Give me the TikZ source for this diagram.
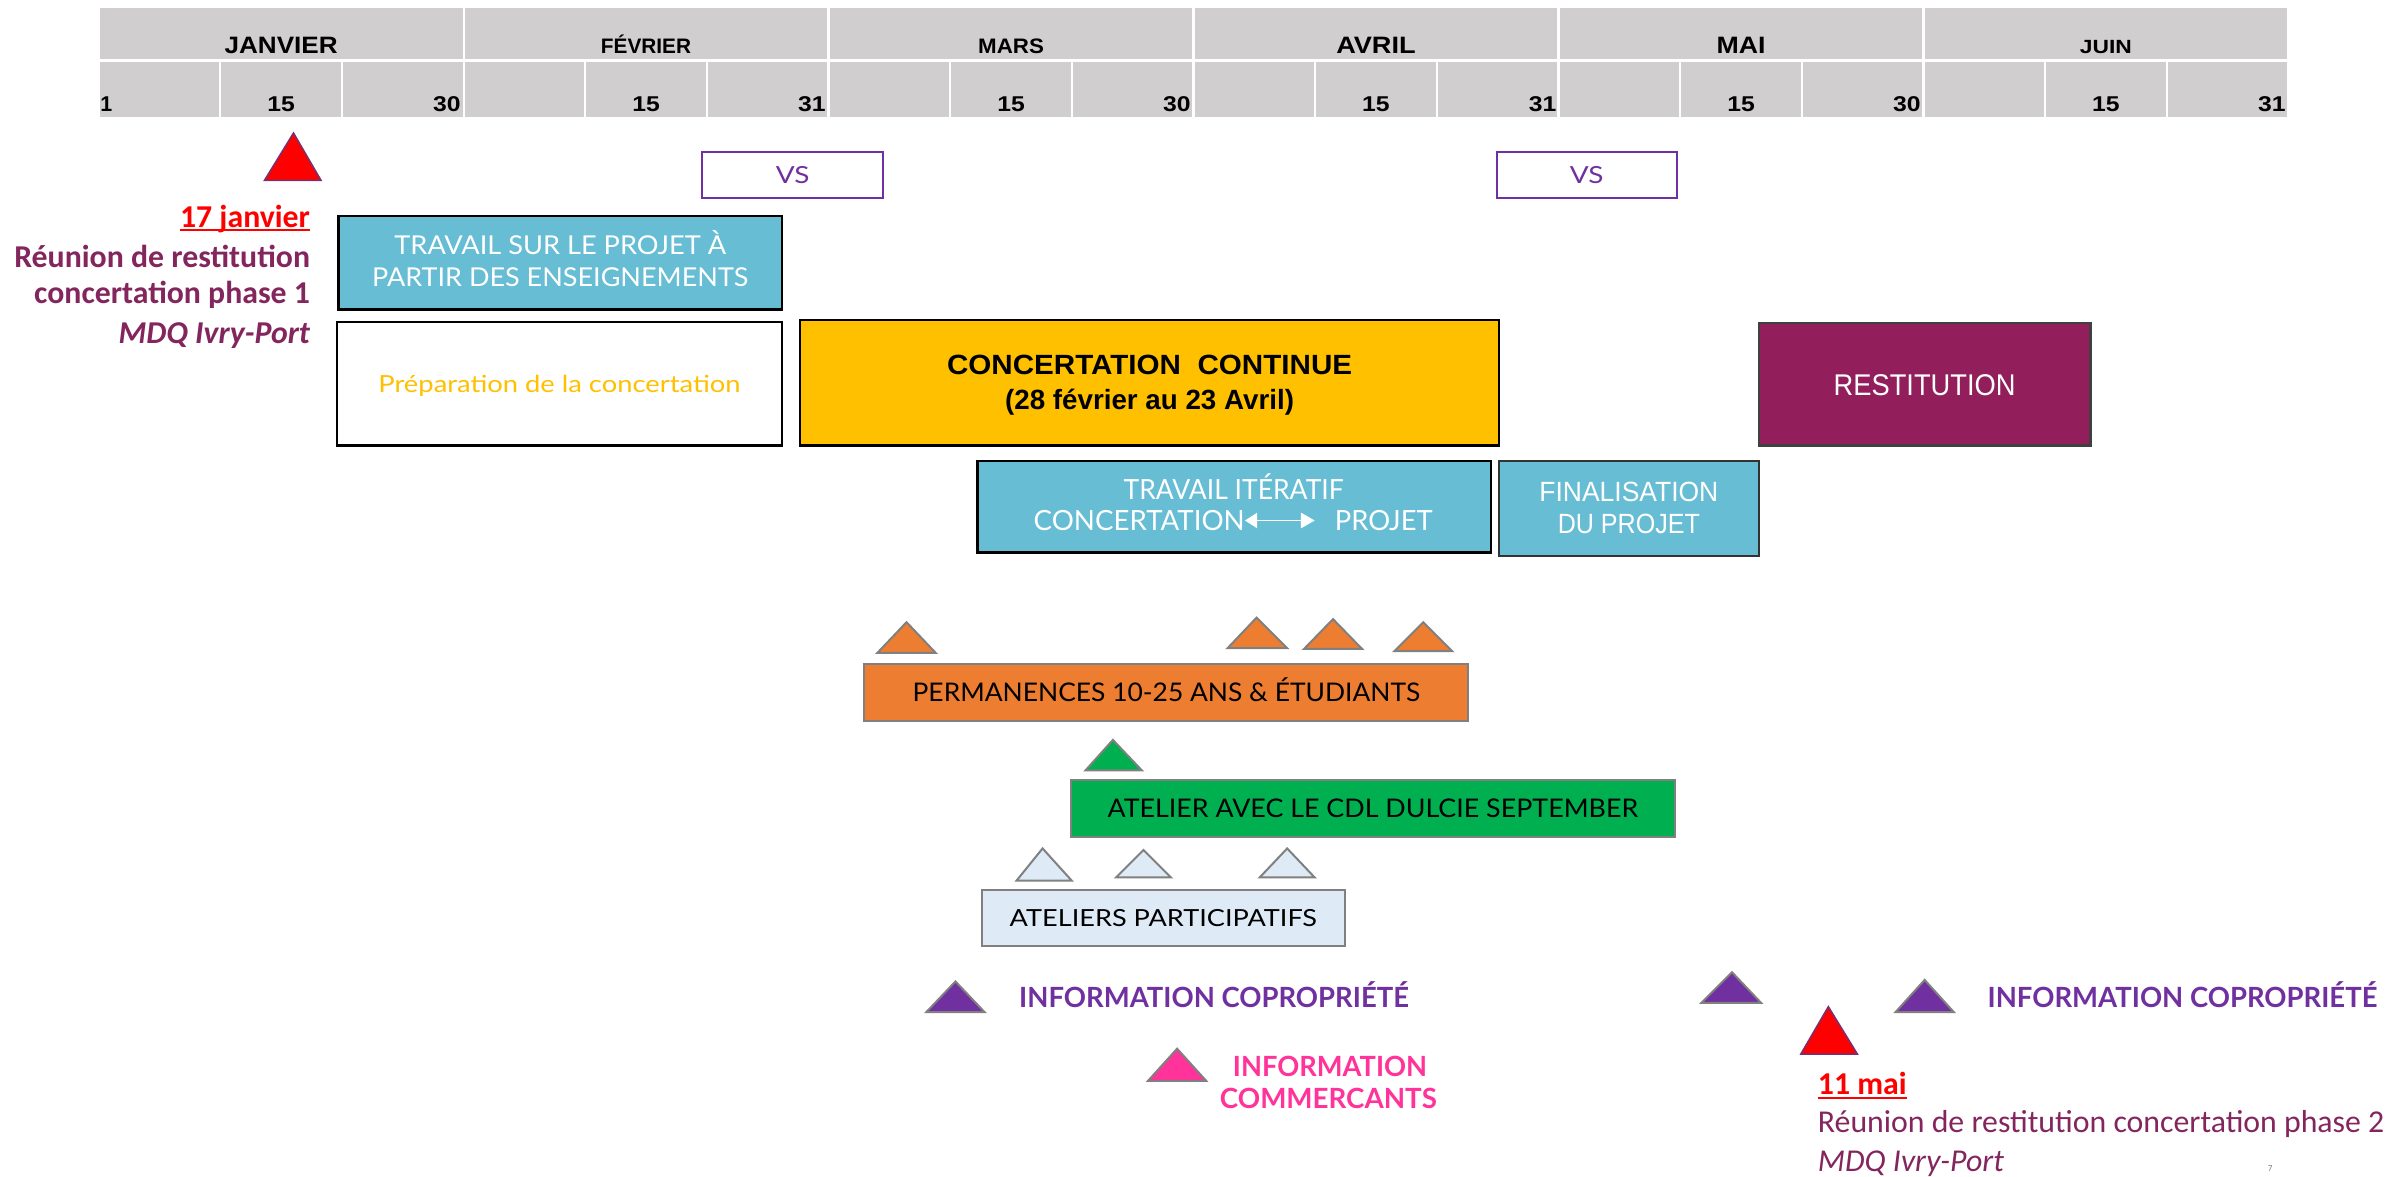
\documentclass[tikz,border=0pt]{standalone}
\usepackage{fontspec}
\setmainfont{Carlito}
\newfontfamily\hdrfont{Liberation Sans}
\newfontfamily\latofont{Lato}
\usetikzlibrary{arrows.meta}
\definecolor{hdrgray}{RGB}{208,206,206}
\definecolor{cyanbox}{RGB}{103,189,212}
\definecolor{goldbox}{RGB}{255,192,0}
\definecolor{plumbox}{RGB}{146,31,92}
\definecolor{orangebox}{RGB}{237,125,49}
\definecolor{greenbox}{RGB}{0,176,80}
\definecolor{palebox}{RGB}{222,235,247}
\definecolor{vsviolet}{RGB}{112,48,160}
\definecolor{pinkinfo}{RGB}{255,51,153}
\definecolor{maroontext}{RGB}{131,38,93}
\definecolor{tribord}{RGB}{128,128,128}
\definecolor{redtribord}{RGB}{122,48,112}
\newcommand\hfit[2]{\resizebox{#1pt}{\height}{#2}}
\begin{document}
\begin{tikzpicture}[x=1pt,y=-1pt,
  tlbox/.style={draw=black, line width=1.5pt, rectangle, inner sep=0pt, text height=12pt, text depth=0pt},
  graybox/.style={tlbox, draw=tribord, line width=1.3pt},
  lbl/.style={inner sep=0pt, anchor=base},
  trimark/.style={draw=tribord, line width=1.3pt, line join=miter},
  redmark/.style={draw=redtribord, line width=1pt, line join=miter, fill=red},
  hmonth/.style={lbl, font=\hdrfont\bfseries\fontsize{15.5}{18}\selectfont},
  hmonthsm/.style={lbl, font=\hdrfont\bfseries\fontsize{13.7}{16}\selectfont},
  hday/.style={lbl, font=\hdrfont\bfseries\fontsize{14}{16}\selectfont},
  latotxt/.style={lbl, font=\latofont\fontsize{17}{20}\selectfont},
  narrowtxt/.style={lbl, font=\hdrfont\fontsize{18.2}{21}\selectfont},
  leftnote/.style={lbl, anchor=base east, text=maroontext, font=\bfseries\fontsize{20.8}{25}\selectfont},
  rightnote/.style={lbl, anchor=base west, text=maroontext, font=\fontsize{20.8}{25}\selectfont},
  infotxt/.style={lbl, font=\latofont\bfseries\fontsize{18.2}{21}\selectfont},
  iterarrow/.style={white, line width=1.3pt, {Triangle[length=8pt,width=10pt]}-{Triangle[length=9pt,width=10pt]}},
]
\fill[white] (0,0) rectangle (1568,769.3);
\useasboundingbox (0,0) rectangle (1568,769.3);

% header grid
\foreach \m in {0,...,5}
  \fill[hdrgray] ({64.5+\m*238.75+0.7},5.5) rectangle ({64.5+(\m+1)*238.75-0.7},38.8);
\foreach \d in {0,...,17}
  \fill[hdrgray] ({64.5+\d*79.583+0.7},40.5) rectangle ({64.5+(\d+1)*79.583-0.7},76.4);

% month names
\node[hmonth] (mjan) at (183.9,35) {\hfit{74}{JANVIER}};
\node[hmonthsm] (mfev) at (422.6,35) {\hfit{59}{FÉVRIER}};
\node[hmonthsm] (mmar) at (661.4,35) {\hfit{43}{MARS}};
\node[hmonth] (mavr) at (900.1,35) {\hfit{52}{AVRIL}};
\node[hmonth] (mmai) at (1138.9,35) {\hfit{32}{MAI}};
\node[hmonthsm, font=\hdrfont\bfseries\fontsize{12.5}{15}\selectfont] (mjui) at (1377.6,35) {\hfit{34}{JUIN}};

% day numbers
\node[hday, anchor=base west] (dja) at (65.5,73) {1};
\node[hday] (djb) at (183.9,73) {\hfit{18}{15}};
\node[hday, anchor=base east] (djc) at (301.5,73) {\hfit{18}{30}};
\node[hday] (dfb) at (422.6,73) {\hfit{18}{15}};
\node[hday, anchor=base east] (dfc) at (540.3,73) {\hfit{18}{31}};
\node[hday] (dmb) at (661.4,73) {\hfit{18}{15}};
\node[hday, anchor=base east] (dmc) at (779,73) {\hfit{18}{30}};
\node[hday] (dab) at (900.1,73) {\hfit{18}{15}};
\node[hday, anchor=base east] (dac) at (1018.3,73) {\hfit{18}{31}};
\node[hday] (dyb) at (1138.9,73) {\hfit{18}{15}};
\node[hday, anchor=base east] (dyc) at (1256.6,73) {\hfit{18}{30}};
\node[hday] (dub) at (1377.6,73) {\hfit{18}{15}};
\node[hday, anchor=base east] (duc) at (1495.3,73) {\hfit{18}{31}};

% VS boxes
\node[tlbox, draw=vsviolet, line width=1.3pt, minimum width=118pt, minimum height=30pt, text height=11pt,
      text=vsviolet, font=\latofont\fontsize{15.4}{18}\selectfont] (vsa) at (518.5,114.5) {\hfit{22}{VS}};
\node[tlbox, draw=vsviolet, line width=1.3pt, minimum width=118pt, minimum height=30pt, text height=11pt,
      text=vsviolet, font=\latofont\fontsize{15.4}{18}\selectfont] (vsb) at (1038,114.5) {\hfit{22}{VS}};

% red marker and left note
\draw[redmark] (192,87) -- (173,118) -- (210,118) -- cycle;
\node[leftnote, text=red] (jan17) at (203,148.5) {17 janvier};
\draw[red, line width=1.3pt] ([yshift=-2pt]jan17.base west) -- ([yshift=-2pt]jan17.base east);
\node[leftnote] (nla) at (203,174.7) {Réunion de restitution};
\node[leftnote] (nlb) at (203,198.8) {concertation phase 1};
\node[leftnote] (nlc) at (203,224.4) {\itshape MDQ Ivry-Port};

% main boxes
\node[tlbox, fill=cyanbox, minimum width=290pt, minimum height=61pt] (travsur) at (366.5,172) {};
\node[latotxt, text=white] (travsura) at (366.5,166.8) {\hfit{217}{TRAVAIL SUR LE PROJET À}};
\node[latotxt, text=white] (travsurb) at (366.5,187.5) {\hfit{246}{PARTIR DES ENSEIGNEMENTS}};

\node[tlbox, fill=white, minimum width=291pt, minimum height=81pt, text height=11pt,
      text=goldbox, font=\latofont\fontsize{15.4}{18}\selectfont] (prep) at (366,251) {\hfit{237}{Préparation de la concertation}};

\node[tlbox, fill=goldbox, minimum width=457pt, minimum height=82pt] (concert) at (752,250.5) {};
\node[narrowtxt, font=\hdrfont\bfseries\fontsize{18.2}{21}\selectfont] (concerta) at (752,245) {\hfit{265}{CONCERTATION\ \ CONTINUE}};
\node[narrowtxt, font=\hdrfont\bfseries\fontsize{18.2}{21}\selectfont] (concertb) at (752,268) {\hfit{189}{(28 février au 23 Avril)}};

\node[tlbox, fill=plumbox, draw=black!75, minimum width=217pt, minimum height=80pt, text height=14pt,
      text=white, font=\hdrfont\fontsize{19.6}{22}\selectfont] (restit) at (1259,251.5) {\hfit{119}{RESTITUTION}};

\node[tlbox, fill=cyanbox, minimum width=336pt, minimum height=60pt] (iter) at (807.5,331.5) {};
\node[latotxt, text=white, font=\latofont\fontsize{18.2}{21}\selectfont] (itera) at (807,327) {\hfit{144}{TRAVAIL ITÉRATIF}};
\node[latotxt, anchor=base west, text=white, font=\latofont\fontsize{18.2}{21}\selectfont] (iterc) at (676,347) {\hfit{138}{CONCERTATION}};
\node[latotxt, anchor=base west, text=white, font=\latofont\fontsize{18.2}{21}\selectfont] (iterp) at (873,347) {\hfit{64}{PROJET}};
\draw[iterarrow, shorten >=13pt] (iterc.east) -- (iterp.west);

\node[tlbox, fill=cyanbox, draw=black!80, minimum width=170pt, minimum height=62pt] (final) at (1065.5,332.5) {};
\node[narrowtxt, text=white] (finala) at (1065.5,328) {\hfit{117}{FINALISATION}};
\node[narrowtxt, text=white] (finalb) at (1065.5,349) {\hfit{93}{DU PROJET}};

% permanences
\draw[trimark, fill=orangebox] (593,407) -- (574,427) -- (612,427) -- cycle;
\draw[trimark, fill=orangebox] (822,404) -- (803,424) -- (842,424) -- cycle;
\draw[trimark, fill=orangebox] (872,405) -- (853,424.5) -- (891,424.5) -- cycle;
\draw[trimark, fill=orangebox] (931,407) -- (912,426) -- (950,426) -- cycle;
\node[graybox, fill=orangebox, minimum width=395pt, minimum height=37pt,
      font=\latofont\fontsize{16.8}{20}\selectfont] (perm) at (763,453) {\hfit{332}{PERMANENCES 10-25 ANS \& ÉTUDIANTS}};

% atelier CDL
\draw[trimark, fill=greenbox] (728,484) -- (710,504) -- (747,504) -- cycle;
\node[graybox, fill=greenbox, minimum width=395pt, minimum height=37pt,
      font=\latofont\fontsize{16.8}{20}\selectfont] (cdl) at (898,529) {\hfit{347}{ATELIER AVEC LE CDL DULCIE SEPTEMBER}};

% ateliers participatifs
\draw[trimark, fill=palebox] (682,555) -- (665,576) -- (701,576) -- cycle;
\draw[trimark, fill=palebox] (748,556) -- (730,574) -- (766,574) -- cycle;
\draw[trimark, fill=palebox] (842,555) -- (824,574) -- (860,574) -- cycle;
\node[graybox, fill=palebox, minimum width=237pt, minimum height=36pt, text height=11pt,
      font=\latofont\fontsize{15.4}{18}\selectfont] (apart) at (761,600.5) {\hfit{201}{ATELIERS PARTICIPATIFS}};

% information markers
\draw[trimark, fill=vsviolet] (625,642) -- (606,662) -- (644,662) -- cycle;
\node[infotxt, anchor=base west, text=vsviolet] (infocoa) at (666.5,659) {\hfit{255}{INFORMATION COPROPRIÉTÉ}};
\draw[trimark, fill=pinkinfo] (770,686) -- (751,707) -- (789,707) -- cycle;
\node[infotxt, text=pinkinfo] (infocma) at (870,704) {\hfit{127}{INFORMATION}};
\node[infotxt, text=pinkinfo] (infocmb) at (869,725) {\hfit{142}{COMMERCANTS}};

\draw[trimark, fill=vsviolet] (1133,636) -- (1113,656) -- (1152,656) -- cycle;
\draw[trimark, fill=vsviolet] (1259,641) -- (1240,662) -- (1278,662) -- cycle;
\node[infotxt, anchor=base west, text=vsviolet] (infocob) at (1300,659) {\hfit{255}{INFORMATION COPROPRIÉTÉ}};

% red marker and right note
\draw[redmark] (1196,658.5) -- (1178,689.5) -- (1215,689.5) -- cycle;
\node[rightnote, text=red, font=\bfseries\fontsize{20.8}{25}\selectfont] (mai11) at (1189,716) {11 mai};
\draw[red, line width=1.3pt] ([yshift=-2.5pt]mai11.base west) -- ([yshift=-2.5pt]mai11.base east);
\node[rightnote] (nra) at (1189,741) {Réunion de restitution concertation phase 2};
\node[rightnote] (nrb) at (1189,766) {\itshape MDQ Ivry-Port};

% page number
\node[inner sep=0pt, anchor=north, text=gray, font=\fontsize{6}{7}\selectfont] (pgnum) at (1485,762.5) {7};
\end{tikzpicture}
\end{document}
